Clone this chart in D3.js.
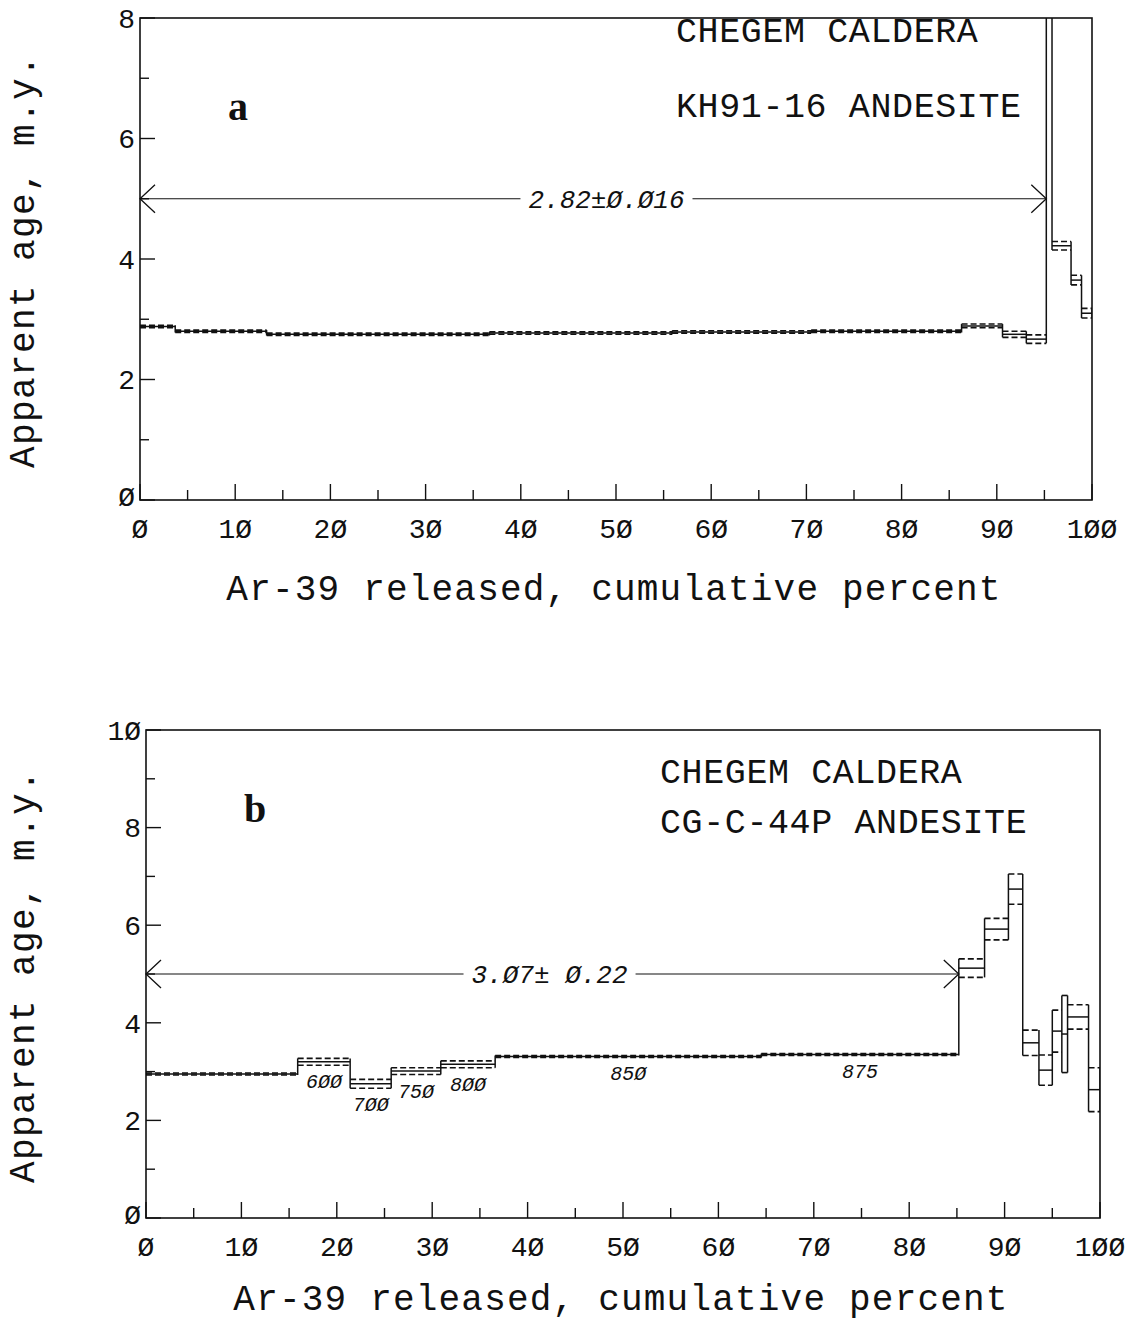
<!DOCTYPE html>
<html>
<head>
<meta charset="utf-8">
<script src="https://cdn.jsdelivr.net/npm/d3@7"></script>
<style>
  body { margin: 0; background: #fff; }
  svg { display: block; }
  text { fill: #111; }
</style>
</head>
<body>
<svg id="chart" width="1136" height="1324"></svg>
<script>
// --- panel a: KH91-16 andesite ---
const aCumPct = [0, 3.7, 13.3, 36.7, 55.9, 70.5, 86.3, 90.6, 93.1, 95.2, 95.8, 97.8, 98.9, 100];
const aAge    = [2.88, 2.80, 2.75, 2.77, 2.79, 2.80, 2.89, 2.75, 2.67, 12, 4.22, 3.65, 3.10];
const aErr    = [0.02, 0.02, 0.02, 0.02, 0.02, 0.02, 0.03, 0.05, 0.07, 0.5, 0.07, 0.08, 0.08];
const aTitle  = ["CHEGEM CALDERA", "KH91-16 ANDESITE"];
const aPlateau = [0, 95.2, 5];           // from %, to %, drawn at age
const aPlateauText = "2.82±Ø.Ø16";

// --- panel b: CG-C-44P andesite ---
const bCumPct = [0, 15.9, 21.4, 25.7, 30.9, 36.6, 64.5, 85.2, 87.9, 90.4, 91.9, 93.6, 95.0, 96.0, 96.6, 98.8, 100];
const bAge    = [2.95, 3.20, 2.75, 3.01, 3.15, 3.31, 3.35, 5.12, 5.92, 6.74, 3.59, 3.03, 3.83, 3.77, 4.12, 2.63];
const bErr    = [0.02, 0.07, 0.09, 0.07, 0.07, 0.02, 0.02, 0.19, 0.22, 0.31, 0.26, 0.31, 0.43, 0.79, 0.25, 0.45];
const bTemp   = ["", "6ØØ", "7ØØ", "75Ø", "8ØØ", "85Ø", "875", "", "", "", "", "", "", "", "", ""];
const bTitle  = ["CHEGEM CALDERA", "CG-C-44P ANDESITE"];
const bPlateau = [0, 85.2, 5];
const bPlateauText = "3.Ø7± Ø.22";

const xTicks = d3.range(0, 101, 10);
const xLabel = "Ar-39 released, cumulative percent";
const yLabel = "Apparent age, m.y.";

const MONO = "'Liberation Mono', 'DejaVu Sans Mono', monospace";
const slashZero = d => String(d).replace(/0/g, "Ø");

const svg = d3.select("#chart");

function drawPanel(o) {
  const x = d3.scaleLinear().domain([0, 100]).range([o.left, o.right]);
  const y = d3.scaleLinear().domain([0, o.yMax]).range([o.bottom, o.top]);
  const g = svg.append("g");

  // frame
  g.append("rect")
    .attr("x", o.left).attr("y", o.top)
    .attr("width", o.right - o.left).attr("height", o.bottom - o.top)
    .attr("fill", "none").attr("stroke", "#111").attr("stroke-width", 1.6);

  // x ticks (inward)
  const xt = d3.range(0, 101, 5);
  g.selectAll(".xt").data(xt).join("line")
    .attr("x1", d => x(d)).attr("x2", d => x(d))
    .attr("y1", o.bottom).attr("y2", d => o.bottom - (d % 10 === 0 ? 16 : 10))
    .attr("stroke", "#111").attr("stroke-width", 1.4);
  g.selectAll(".xl").data(xTicks).join("text")
    .attr("x", d => x(d)).attr("y", o.bottom + 28)
    .attr("text-anchor", "middle").attr("dy", "0.35em")
    .style("font-family", MONO).style("font-size", "28px")
    .text(slashZero);

  // y ticks (inward)
  const yt = d3.range(0, o.yMax + 1, 1);
  g.selectAll(".yt").data(yt).join("line")
    .attr("x1", o.left).attr("x2", d => o.left + (d % 2 === 0 ? 15 : 9))
    .attr("y1", d => y(d)).attr("y2", d => y(d))
    .attr("stroke", "#111").attr("stroke-width", 1.4);
  g.selectAll(".yl").data(yt.filter(d => d % 2 === 0)).join("text")
    .attr("x", o.left - 5).attr("y", d => y(d) - (d === 0 ? 4 : 0))
    .attr("text-anchor", "end").attr("dy", "0.35em")
    .style("font-family", MONO).style("font-size", "28px")
    .text(slashZero);

  // axis titles
  g.append("text")
    .attr("x", (o.left + o.right) / 2 - 2).attr("y", o.bottom + o.xTitleDy)
    .attr("text-anchor", "middle")
    .style("font-family", MONO).style("font-size", "36px")
    .style("letter-spacing", "1.2px")
    .text(xLabel);
  g.append("text")
    .attr("transform", `translate(34,${(o.top + o.bottom) / 2 + 2}) rotate(-90)`)
    .attr("text-anchor", "middle")
    .style("font-family", MONO).style("font-size", "36px")
    .style("letter-spacing", "1.4px")
    .text(yLabel);

  // sample titles
  o.title.forEach((t, i) => {
    g.append("text")
      .attr("x", o.titleX).attr("y", o.titleY + i * o.titleGap)
      .style("font-family", MONO).style("font-size", "35px")
      .style("letter-spacing", "0.6px")
      .text(t);
  });
  g.append("text")
    .attr("x", o.letterX).attr("y", o.letterY)
    .attr("text-anchor", "middle")
    .style("font-family", "'Liberation Serif', serif").style("font-weight", "bold")
    .style("font-size", "40px")
    .text(o.letter);

  // spectrum
  const clipId = "clip" + o.letter;
  svg.append("clipPath").attr("id", clipId).append("rect")
    .attr("x", o.left).attr("y", o.top)
    .attr("width", o.right - o.left).attr("height", o.bottom - o.top);
  const sp = g.append("g").attr("clip-path", `url(#${clipId})`);

  const steps = o.age.map((a, i) => ({
    x0: o.cum[i], x1: o.cum[i + 1], age: a, err: o.err[i], temp: o.temp ? o.temp[i] : ""
  }));

  sp.selectAll(".mid").data(steps).join("line")
    .attr("x1", d => x(d.x0)).attr("x2", d => x(d.x1))
    .attr("y1", d => y(d.age)).attr("y2", d => y(d.age))
    .attr("stroke", "#111").attr("stroke-width", 1.5);
  ["hi", "lo"].forEach(k => {
    sp.selectAll("." + k).data(steps).join("line")
      .attr("x1", d => x(d.x0)).attr("x2", d => x(d.x1))
      .attr("y1", d => y(k === "hi" ? d.age + d.err : d.age - d.err))
      .attr("y2", d => y(k === "hi" ? d.age + d.err : d.age - d.err))
      .attr("stroke", "#111").attr("stroke-width", 1.6)
      .attr("stroke-dasharray", "6,3");
  });

  // vertical edges between steps
  const edges = o.cum.map((c, j) => {
    const adj = steps.filter((s, i) => i === j - 1 || i === j);
    return {
      c: c,
      lo: d3.min(adj, s => s.age - s.err),
      hi: d3.max(adj, s => s.age + s.err)
    };
  });
  sp.selectAll(".edge").data(edges).join("line")
    .attr("x1", d => x(d.c)).attr("x2", d => x(d.c))
    .attr("y1", d => y(d.lo)).attr("y2", d => y(d.hi))
    .attr("stroke", "#111").attr("stroke-width", 1.5);

  // temperature labels
  g.selectAll(".temp").data(steps.filter(s => s.temp)).join("text")
    .attr("x", d => x((d.x0 + d.x1) / 2))
    .attr("y", d => y(d.age - d.err) + 16)
    .attr("text-anchor", "middle").attr("dy", "0.35em")
    .style("font-family", MONO).style("font-style", "italic").style("font-size", "20px")
    .text(d => d.temp);

  // plateau arrow
  const [p0, p1, pa] = o.plateau;
  const py = y(pa);
  g.append("line")
    .attr("x1", x(p0)).attr("x2", x(p1)).attr("y1", py).attr("y2", py)
    .attr("stroke", "#111").attr("stroke-width", 1.2);
  [[x(p0), 1], [x(p1), -1]].forEach(([px, dir]) => {
    g.append("path")
      .attr("d", `M${px + dir * 15},${py - 14}L${px},${py}L${px + dir * 15},${py + 14}`)
      .attr("fill", "none").attr("stroke", "#111").attr("stroke-width", 1.3);
  });
  const lbl = g.append("text")
    .attr("x", x(o.plateauAt)).attr("y", py).attr("dy", "0.35em")
    .attr("text-anchor", "middle")
    .style("font-family", MONO).style("font-style", "italic").style("font-size", "26px")
    .text(o.plateauText);
  const bb = lbl.node().getBBox();
  g.insert("rect", "text:last-child")
    .attr("x", bb.x - 8).attr("y", bb.y).attr("width", bb.width + 16).attr("height", bb.height)
    .attr("fill", "#fff");
}

drawPanel({
  left: 140, right: 1092, top: 18, bottom: 500, yMax: 8,
  cum: aCumPct, age: aAge, err: aErr, temp: null,
  title: aTitle, titleX: 676, titleY: 42, titleGap: 75,
  letter: "a", letterX: 238, letterY: 120, xTitleDy: 100,
  plateau: aPlateau, plateauText: aPlateauText, plateauAt: 49
});

drawPanel({
  left: 146, right: 1100, top: 730, bottom: 1218, yMax: 10,
  cum: bCumPct, age: bAge, err: bErr, temp: bTemp,
  title: bTitle, titleX: 660, titleY: 783, titleGap: 50,
  letter: "b", letterX: 255, letterY: 822, xTitleDy: 92,
  plateau: bPlateau, plateauText: bPlateauText, plateauAt: 42.3
});
</script>
</body>
</html>
